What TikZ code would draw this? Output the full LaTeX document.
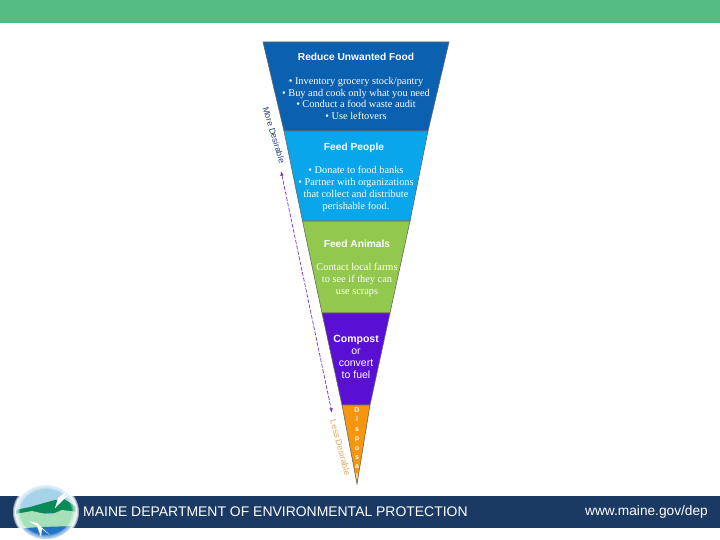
\documentclass[tikz,border=0pt]{standalone}
\usepackage{fontspec}
\setmainfont{Liberation Serif}
\setsansfont{Liberation Sans}
\usetikzlibrary{arrows.meta,positioning}
\definecolor{mdGreen}{HTML}{52BC82}
\definecolor{mdNavy}{HTML}{1B3A63}
\definecolor{mdBlue}{HTML}{0B60B0}
\definecolor{mdSky}{HTML}{0AA6EC}
\definecolor{mdLeaf}{HTML}{92C84E}
\definecolor{mdPurple}{HTML}{5A10D2}
\definecolor{mdOrange}{HTML}{F6960F}
\definecolor{mdTan}{HTML}{E0A55A}
\definecolor{mdInk}{HTML}{24407A}
\definecolor{mdSkyLogo}{HTML}{A6D3E8}
\definecolor{mdHill}{HTML}{0A8A58}
\definecolor{mdMeadow}{HTML}{A5E0B8}
\definecolor{mdSea}{HTML}{1F74C4}
\tikzset{
  mdTier/.style={draw=black!60,line width=0.6pt},
  mdHead/.style={font=\sffamily\bfseries\fontsize{10.2}{12}\selectfont,text=white,inner sep=0pt},
  mdBody/.style={font=\rmfamily\fontsize{10.35}{11.8}\selectfont,text=white,align=center,inner sep=0pt},
  mdFuel/.style={font=\sffamily\fontsize{10.5}{12}\selectfont,text=white,align=center,inner sep=0pt},
  mdSide/.style={font=\sffamily\fontsize{8.6}{10}\selectfont,inner sep=0pt},
  mdArrow/.style={{Latex[length=1.7mm]}-{Latex[length=1.7mm]},line width=0.7pt,draw=mdPurple!85,dash pattern=on 4pt off 1.5pt},
  mdFoot/.style={font=\sffamily\fontsize{13.95}{16}\selectfont,text=white,inner sep=0pt}
}
\begin{document}
\begin{tikzpicture}[x=1pt,y=-1pt]
\useasboundingbox (0,0) rectangle (720,540);
\fill[mdGreen] (0,0) rectangle (720,23);
\fill[mdNavy] (0,496) rectangle (720,528);
% funnel
\fill[mdTier,fill=mdBlue] (263,42) -- (449,42) -- (428,131) -- (284,131) -- cycle;
\fill[mdTier,fill=mdSky] (284,131) -- (428,131) -- (410,221) -- (302.5,221) -- cycle;
\fill[mdTier,fill=mdLeaf] (302.5,221) -- (410,221) -- (390,313) -- (322,313) -- cycle;
\fill[mdTier,fill=mdPurple] (322,313) -- (390,313) -- (370,405) -- (342,405) -- cycle;
\fill[mdTier,fill=mdOrange] (342,405) -- (370,405) -- (357,484) -- cycle;
\node[mdHead] (reduceHead) at (356,57) {Reduce Unwanted Food};
\node[mdBody] (reduceBody) at (356,98.5) {• Inventory grocery stock/pantry\\• Buy and cook only what you need\\• Conduct a food waste audit\\• Use leftovers};
\node[mdHead] (peopleHead) at (354,147.5) {Feed People};
\node[mdBody] (peopleBody) at (356,189) {• Donate to food banks\\• Partner with organizations\\that collect and distribute\\perishable food.};
\node[mdHead] (animalHead) at (357,244) {Feed Animals};
\node[mdBody] (animalBody) at (357,280) {Contact local farms\\to see if they can\\use scraps};
\node[mdFuel] (fuelBody) at (356,356.5) {\textbf{Compost}\\or\\convert\\to fuel};
\node[font=\sffamily\bfseries\fontsize{7}{9.4}\selectfont,text=white,align=center,inner sep=0pt] (disposal) at (357,443) {D\\i\\s\\p\\o\\s\\a\\l};
% desirability scale
\node[mdSide,text=mdInk,rotate=-73] (moreLabel) at (274,135) {More Desirable};
\node[mdSide,text=mdTan,rotate=-75] (lessLabel) at (340.5,447.5) {Less Desirable};
\coordinate (moreEnd) at (281,171);
\coordinate (lessEnd) at (332,413);
\draw[mdArrow] (moreEnd) -- (lessEnd);
% footer
\node[mdFoot,anchor=west] (deptName) at (83,511.5) {MAINE DEPARTMENT OF ENVIRONMENTAL PROTECTION};
\node[font=\sffamily\fontsize{13.7}{15}\selectfont,text=white,inner sep=0pt,anchor=east] (webSite) at (708,512) {www.maine.gov/dep};
% logo
\foreach \r in {3,2,1,0}
  \fill[white,opacity=.55] (46,512) ellipse[x radius=30+\r,y radius=27+\r];
\begin{scope}
\clip (46,512) ellipse[x radius=30,y radius=27];
\fill[mdSkyLogo] (15,484) rectangle (78,540);
\fill[mdHill] (15,510) -- (30,507) -- (44,503) -- (55,500) -- (64,499) -- (72,504) -- (78,508) -- (78,513) -- (15,514) -- cycle;
\fill[mdMeadow] (15,514) -- (32,511) -- (50,515) -- (62,510) -- (78,512) -- (78,529) -- (15,529) -- cycle;
\fill[mdSea] (15,529) -- (40,527) -- (78,526) -- (78,540) -- (15,540) -- cycle;
\end{scope}
\fill[white] (55,508) -- (58,498) -- (67,491) -- (64,497) -- (69,494) -- (60,503) -- cycle;
\fill[white] (29,521) -- (37,523) -- (50,535) -- (42,529) -- (41,537) -- (37,526) -- cycle;
\foreach \r in {29,28,27,26}
  \fill[white,opacity=.25,even odd rule] (46,512) ellipse[x radius=31,y radius=28] ellipse[x radius=\r,y radius=\r-3];
\end{tikzpicture}
\end{document}
